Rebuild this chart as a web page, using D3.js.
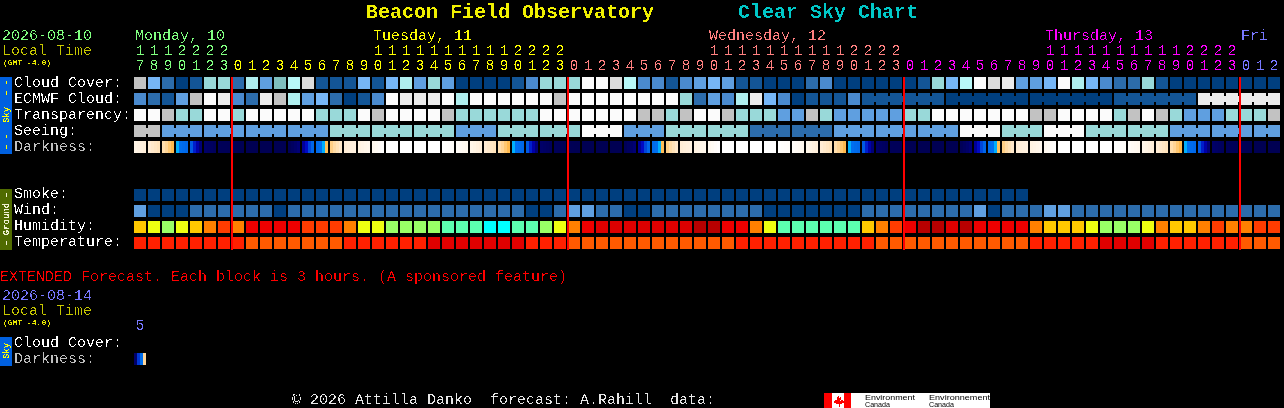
<!DOCTYPE html>
<html>
<head>
<meta charset="utf-8">
<script src="https://cdn.jsdelivr.net/npm/d3@7"></script>
<style>
  html, body { margin: 0; background: #000; overflow: hidden; }
  svg { display: block; }
  text { font-family: "Liberation Mono", monospace; font-size: 15px; white-space: pre; }
</style>
</head>
<body>
<script>
const hours = [17,18,19,20,21,22,23,
  0,1,2,3,4,5,6,7,8,9,10,11,12,13,14,15,16,17,18,19,20,21,22,23,
  0,1,2,3,4,5,6,7,8,9,10,11,12,13,14,15,16,17,18,19,20,21,22,23,
  0,1,2,3,4,5,6,7,8,9,10,11,12,13,14,15,16,17,18,19,20,21,22,23,
  0,1,2];
const dayLabels = ['Monday, 10', 'Tuesday, 11', 'Wednesday, 12', 'Thursday, 13', 'Fri'];
const dayCols = [0, 17, 41, 65, 79];
const midnightCols = [7, 31, 55, 79];

const skyRows = ['Cloud Cover:', 'ECMWF Cloud:', 'Transparency:', 'Seeing:', 'Darkness:'];
const groundRows = ['Smoke:', 'Wind:', 'Humidity:', 'Temperature:'];
const extRows = ['Cloud Cover:', 'Darkness:'];

// sky levels, 0 = dark blue (clear) up to the whites and greys
const cloudCover = [13,5,2,0,1,7,7,2,8,4,6,9,12,1,1,1,5,1,5,8,4,
  7,4,0,0,0,0,1,3,7,7,7,10,10,12,9,3,3,1,3,4,5,4,1,1,0,0,0,2,3,0,0,
  0,0,0,0,1,7,5,9,10,12,11,4,4,5,10,8,5,3,2,2,7,1,0,0,0,0,0,0,0,0];
const ecmwfCloud = [3,2,1,4,13,10,11,3,2,11,13,8,4,5,2,0,1,3,10,11,11,
  11,10,8,10,10,10,10,10,10,13,10,10,10,10,10,10,10,10,7,2,4,3,8,11,5,3,0,1,1,1,3,
  1,1,1,1,1,1,0,0,0,0,0,0,0,0,0,0,0,0,1,1,1,1,1,1,11,11,11,11,11,11];
const transparency = [10,10,13,7,7,10,10,7,10,10,10,10,10,7,7,7,10,13,10,10,10,
  10,13,7,7,7,7,7,7,10,10,10,10,10,10,10,13,13,7,13,10,10,13,7,7,7,4,4,13,7,4,4,
  4,4,4,7,7,10,10,10,10,10,10,10,13,13,10,10,10,10,7,13,10,13,7,4,4,4,7,7,7,13];
const seeing = [13,13,4,4,4,4,4,4,4,4,4,4,4,4,7,7,7,7,7,7,7,7,7,
  4,4,4,7,7,7,7,7,7,10,10,10,4,4,4,7,7,7,7,7,7,2,2,2,2,2,2,4,4,4,
  4,4,4,4,4,4,10,10,10,7,7,7,10,10,10,7,7,7,7,7,7,4,4,4,4,4,4,4,4];
const seeingRunStarts = [0,2,5,8,11,14,17,20,23,26,29,32,35,38,41,44,47,50,53,56,59,62,65,68,71,74,77,80];
const ecmwfRunStarts = d3.range(0, 52).concat([52,58,64,70,76]);

// darkness at the edges of each block (0 = night, 9 = full daylight)
const darkness = [7.8,7.0,6.4,5.1,3.2,0.8,0.3,0.2,0.1,0.1,0.1,0.1,1.2,3.6,5.6,6.9,7.4,8.0,9,9,9,9,9,
  8.6,7.9,7.0,6.4,5.1,3.2,0.8,0.3,0.2,0.1,0.1,0.1,0.1,1.2,3.6,5.6,6.9,7.4,8.0,9,9,9,9,9,
  8.6,7.9,7.0,6.4,5.1,3.2,0.8,0.3,0.2,0.1,0.1,0.1,0.1,1.2,3.6,5.6,6.9,7.4,8.0,9,9,9,9,9,
  8.6,7.9,7.0,6.4,5.1,3.2,0.8,0.3,0.2,0.1,0.1,0.1];

const smoke = [0,0,0,0,0,0,0,0,0,0,0,0,0,0,0,0,0,0,0,0,0,0,0,0,0,0,0,0,0,0,0,0,
  0,0,0,0,0,0,0,0,0,0,0,0,0,0,0,0,0,0,0,0,0,0,0,0,0,0,0,0,0,0,0,0];
const wind = [4,0,0,0,2,2,2,2,2,2,0,2,2,2,2,2,2,2,2,2,2,
  2,2,2,2,2,2,2,0,0,2,4,4,2,2,0,0,2,2,2,2,2,2,2,2,0,0,0,0,0,0,0,
  2,2,2,2,2,2,2,2,4,0,2,2,2,4,4,2,2,2,2,2,2,2,2,2,2,2,2,2,2,2];
const humidity = [4,3,2,3,4,5,6,5,7,7,7,7,6,6,6,5,3,3,2,2,2,
  2,1,1,1,0,0,1,1,2,3,5,7,8,8,8,8,8,8,8,9,9,7,7,5,3,1,1,1,1,1,1,
  4,5,6,7,9,9,8,9,7,7,7,7,5,4,4,4,3,2,2,2,3,5,4,4,5,6,5,5,6,6];
const temperature = [1,1,1,1,1,1,1,1,2,2,2,2,2,2,2,1,1,1,1,1,1,
  0,0,0,0,0,0,0,1,1,1,2,2,2,2,2,2,2,2,2,2,2,2,1,1,1,1,1,1,1,1,1,
  1,2,2,2,2,2,2,2,2,2,2,2,1,1,1,1,1,0,0,0,0,1,1,1,1,1,1,2,2,2];
const extDarkness = [0, 6.8];

const cloudColor = d3.scaleOrdinal(d3.range(14),
  ['#003f7f','#135596','#2c6cab','#4a8ace','#5f9fe0','#76b6f6','#7fbfbf',
   '#99d9d9','#afeeee','#b8f8f8','#fbfbfb','#ebebeb','#dcdcdc','#c2c2c2']);
const humidityColor = d3.scaleOrdinal(d3.range(10),
  ['#00ffff','#5cffb0','#99ff66','#eeff11','#ffc800','#ff8000','#ff3c00','#ee0000','#dd0000','#b80000']);
const tempColor = d3.scaleOrdinal([0,1,2], ['#e00000','#ff2000','#ff5a00']);
const darkColor = d3.scaleLinear()
  .domain([0, 1, 2, 3, 4.5, 5, 5.01, 6, 7, 8, 9])
  .range(['#000050','#000070','#0000c0','#0064e6','#0070f0','#00c8ff','#ffb030','#ffd9a0','#ffeed8','#fff8ee','#ffffff'])
  .clamp(true);
const dayColor = d3.scaleThreshold()
  .domain(midnightCols)
  .range(['#80ff80','#ffff00','#ff8080','#ff00ff','#7878ff']);

const x = d3.scaleBand().domain(d3.range(hours.length)).range([134, 1280]).paddingInner(1 / 7);
const skyY = d3.scaleBand().domain(skyRows).range([77, 153]).paddingInner(0.25);
const groundY = d3.scaleBand().domain(groundRows).range([189, 249]).paddingInner(0.25);
const extY = d3.scaleBand().domain(extRows).range([337, 365]).paddingInner(0.25);

const svg = d3.select(document.body).append('svg')
  .attr('width', 1284).attr('height', 408);

// hard alpha threshold so the text looks like the chart's bitmap font
const filter = svg.append('defs').append('filter').attr('id', 'crisp')
  .attr('filterUnits', 'userSpaceOnUse').attr('x', 0).attr('y', 0).attr('width', 1284).attr('height', 408)
  .attr('color-interpolation-filters', 'sRGB');
filter.append('feComponentTransfer').append('feFuncA')
  .attr('type', 'discrete').attr('tableValues', '0 0 0 1 1');

const marks = svg.append('g').attr('shape-rendering', 'crispEdges');
const labels = svg.append('g').attr('filter', 'url(#crisp)');

function drawBlocks(values, y, row, color, runStarts) {
  const g = marks.append('g');
  g.selectAll('rect.block').data(values).enter().append('rect')
    .attr('class', 'block')
    .attr('x', (d, i) => x(i))
    .attr('y', y(row))
    .attr('width', x.bandwidth())
    .attr('height', y.bandwidth())
    .attr('fill', d => color(d));
  if (!runStarts) return;
  // blocks of one forecast run are joined by a short bridge
  const joined = d3.range(values.length).filter(i => !runStarts.includes(i));
  g.selectAll('rect.join').data(joined).enter().append('rect')
    .attr('class', 'join')
    .attr('x', i => x(i) - (x.step() - x.bandwidth()))
    .attr('y', y(row) + 3)
    .attr('width', x.step() - x.bandwidth())
    .attr('height', y.bandwidth() - 6)
    .attr('fill', i => color(values[i]));
}

function drawDarkness(edges, y, row) {
  const stripe = x.bandwidth() / 4;
  const blocks = d3.range(edges.length - 1);
  marks.append('g').selectAll('g').data(blocks).enter().append('g')
    .selectAll('rect').data(i => d3.range(4).map(k => ({i, k}))).enter().append('rect')
    .attr('x', d => x(d.i) + d.k * stripe)
    .attr('y', y(row))
    .attr('width', stripe)
    .attr('height', y.bandwidth())
    .attr('fill', d => darkColor(d3.interpolateNumber(edges[d.i], edges[d.i + 1])((d.k + 0.5) / 4)));
}

drawBlocks(cloudCover, skyY, 'Cloud Cover:', cloudColor);
drawBlocks(ecmwfCloud, skyY, 'ECMWF Cloud:', cloudColor, ecmwfRunStarts);
drawBlocks(transparency, skyY, 'Transparency:', cloudColor);
drawBlocks(seeing, skyY, 'Seeing:', cloudColor, seeingRunStarts);
drawDarkness(darkness, skyY, 'Darkness:');
drawBlocks(smoke, groundY, 'Smoke:', cloudColor);
drawBlocks(wind, groundY, 'Wind:', cloudColor);
drawBlocks(humidity, groundY, 'Humidity:', humidityColor);
drawBlocks(temperature, groundY, 'Temperature:', tempColor);
drawDarkness(extDarkness, extY, 'Darkness:');

marks.append('g').selectAll('rect').data(midnightCols).enter().append('rect')
  .attr('x', d => x(d) - 1)
  .attr('y', 77)
  .attr('width', 2)
  .attr('height', 173)
  .attr('fill', '#ff0000');

// side bars
marks.append('rect').attr('x', 0).attr('y', 77).attr('width', 12).attr('height', 77).attr('fill', '#0060e0');
marks.append('rect').attr('x', 0).attr('y', 189).attr('width', 12).attr('height', 61).attr('fill', '#506b00');
marks.append('rect').attr('x', 0).attr('y', 337).attr('width', 12).attr('height', 29).attr('fill', '#0060e0');

function sideText(label, cy, color) {
  labels.append('text')
    .attr('transform', `translate(9,${cy}) rotate(-90)`)
    .attr('text-anchor', 'middle')
    .style('font-size', '9px')
    .style('font-weight', 'bold')
    .attr('fill', color)
    .text(label);
}
sideText('\u2013 \u2013  Sky  \u2013 \u2013', 115, '#ffff00');
sideText('\u2013 Ground \u2013', 219, '#f0f0d0');
sideText('Sky', 351, '#ffff00');

function put(label, px, py, color, size, weight) {
  labels.append('text')
    .attr('x', px).attr('y', py)
    .attr('fill', color)
    .style('font-size', size ? size + 'px' : null)
    .style('font-weight', weight || null)
    .text(label);
}

// title
put('Beacon Field Observatory', 366, 18, '#f0f000', 20, 'bold');
put('Clear Sky Chart', 738, 18, '#00c8c8', 20, 'bold');

// left column
put('2026-08-10', 2, 40, '#80ff80');
put('Local Time', 2, 55, '#c8c800');
put('(GMT -4.0)', 3, 65, '#e8e800', 8, 'bold');
skyRows.forEach((r, i) => put(r, 14, skyY(r) + 10, i === 4 ? '#c0c0c0' : '#ffffff'));
groundRows.forEach(r => put(r, 14, groundY(r) + 9, '#ffffff'));

// day names and the two lines of hour digits
dayLabels.forEach((d, i) => put(d, x(dayCols[i]) + 1, 40, dayColor(dayCols[i])));

function hourAxis(py, format) {
  const g = labels.append('g')
    .attr('transform', `translate(0,${py})`)
    .call(d3.axisBottom(x).tickSize(0).tickPadding(0).tickFormat(format));
  g.select('.domain').remove();
  g.attr('font-family', null).attr('font-size', null);
  g.selectAll('text').attr('y', 0).attr('dy', 0)
    .attr('fill', d => dayColor(d));
}
hourAxis(55, i => hours[i] >= 10 ? Math.floor(hours[i] / 10) : '');
hourAxis(70, i => hours[i] % 10);

// extended forecast
put('EXTENDED Forecast. Each block is 3 hours. (A sponsored feature)', 0, 281, '#ff0000');
put('2026-08-14', 2, 300, '#7878ff');
put('Local Time', 2, 315, '#c8c800');
put('(GMT -4.0)', 3, 325, '#e8e800', 8, 'bold');
put('5', 135.5, 330, '#7878ff');
extRows.forEach((r, i) => put(r, 14, extY(r) + 10, i === 1 ? '#c0c0c0' : '#ffffff'));

// footer
put('\u00a9 2026 Attilla Danko  forecast: A.Rahill  data:', 292, 404, '#e8e8e8');

const logo = svg.append('g').attr('shape-rendering', 'crispEdges');
logo.append('rect').attr('x', 824).attr('y', 393).attr('width', 166).attr('height', 15).attr('fill', '#ffffff');
logo.append('rect').attr('x', 824).attr('y', 393).attr('width', 8).attr('height', 15).attr('fill', '#ff0000');
logo.append('rect').attr('x', 844).attr('y', 393).attr('width', 7).attr('height', 15).attr('fill', '#ff0000');
logo.append('path')
  .attr('d', 'M838 395l1.5 3 1.5-.8-.5 3.3 2-1 .5 1.5 1.5-.3-.7 2-1 .7-3.3.8v2.3h-1v-2.3l-3.3-.8-1-.7-.7-2 1.5.3.5-1.5 2 1-.5-3.3 1.5.8z')
  .attr('fill', '#ff0000');
[['Environment', 865, 50], ['Environnement', 929, 61]].forEach(d => {
  logo.append('text').attr('x', d[1]).attr('y', 400).attr('fill', '#000')
    .attr('textLength', d[2]).attr('lengthAdjust', 'spacingAndGlyphs')
    .style('font-family', 'Liberation Sans').style('font-size', '7.5px').text(d[0]);
  logo.append('text').attr('x', d[1]).attr('y', 407).attr('fill', '#000')
    .attr('textLength', 25).attr('lengthAdjust', 'spacingAndGlyphs')
    .style('font-family', 'Liberation Sans').style('font-size', '7.5px').text('Canada');
});
</script>
</body>
</html>
